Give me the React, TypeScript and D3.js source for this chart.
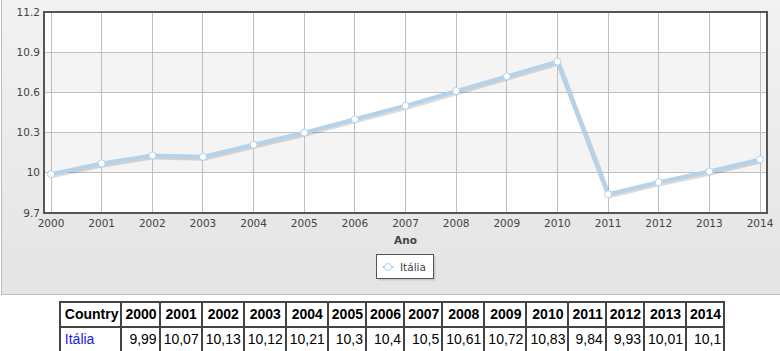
import React from "react";
import * as d3 from "d3";

const years = [2000, 2001, 2002, 2003, 2004, 2005, 2006, 2007, 2008, 2009, 2010, 2011, 2012, 2013, 2014];
const values = [9.99, 10.07, 10.13, 10.12, 10.21, 10.3, 10.4, 10.5, 10.61, 10.72, 10.83, 9.84, 9.93, 10.01, 10.1];
const yTicks = [9.7, 10, 10.3, 10.6, 10.9, 11.2];
const seriesName = "Itália";
const xTitle = "Ano";
const firstColumn = "Country";

const W = 780;
const H = 296;
const plot = { left: 44, right: 767, top: 12, bottom: 213 };
const pad = 7; // inner padding of the x axis

const font = "'DejaVu Sans', Verdana, sans-serif";

const App: React.FC = () => {
  const x = d3
    .scaleLinear()
    .domain([years[0], years[years.length - 1]])
    .range([plot.left + pad, plot.right - pad]);
  const y = d3
    .scaleLinear()
    .domain([yTicks[0], yTicks[yTicks.length - 1]])
    .range([plot.bottom, plot.top]);

  const pts = years.map((yr, i) => ({ yr, v: values[i] }));
  const line = d3
    .line<{ yr: number; v: number }>()
    .x((d) => x(d.yr))
    .y((d) => y(d.v));

  const fmt = (v: number) => String(Math.round(v * 10) / 10);
  const legendX = 376.5;
  const legendY = 254.5;

  const cell: React.CSSProperties = {
    border: "1px solid #444",
    padding: "3px 2px 3px 3px",
    lineHeight: "17px",
  };

  return (
    <div style={{ position: "absolute", left: 0, top: 0, width: 780, height: 351, overflow: "hidden" }}>
      <svg width={W} height={H} style={{ display: "block" }}>
        <defs>
          <linearGradient id="panel-bg" x1="0" y1="0" x2="0" y2="1">
            <stop offset="0%" stopColor="#f2f2f2" />
            <stop offset="100%" stopColor="#e4e4e4" />
          </linearGradient>
        </defs>
        <rect x={1.5} y={-2} width={800} height={296.5} fill="url(#panel-bg)" stroke="#bdbdbd" />

        {/* plot background bands */}
        {yTicks.slice(0, -1).map((t, i) => (
          <rect
            key={`band-${t}`}
            x={plot.left}
            y={y(yTicks[i + 1])}
            width={plot.right - plot.left}
            height={y(t) - y(yTicks[i + 1])}
            fill={i % 2 === 1 ? "#f4f4f4" : "#ffffff"}
          />
        ))}

        {/* grid */}
        {years.map((yr) => (
          <line
            key={`vg-${yr}`}
            x1={x(yr)}
            x2={x(yr)}
            y1={plot.top}
            y2={plot.bottom}
            stroke="#bfbfbf"
            strokeWidth={1}
            shapeRendering="crispEdges"
          />
        ))}
        {yTicks.map((t) => (
          <line
            key={`hg-${t}`}
            x1={plot.left}
            x2={plot.right}
            y1={y(t)}
            y2={y(t)}
            stroke="#bfbfbf"
            strokeWidth={1}
            shapeRendering="crispEdges"
          />
        ))}

        {/* series */}
        <path
          d={line(pts) || ""}
          transform="translate(1,1.5)"
          fill="none"
          stroke="rgba(0,0,0,0.14)"
          strokeWidth={5}
          strokeLinejoin="round"
        />
        <path d={line(pts) || ""} fill="none" stroke="#b3d3ec" strokeWidth={4} strokeLinejoin="round" />
        {pts.map((d) => (
          <circle key={`pt-${d.yr}`} cx={x(d.yr)} cy={y(d.v)} r={3.5} fill="#ffffff" stroke="#b3d3ec" strokeWidth={1} />
        ))}

        {/* plot border */}
        <rect
          x={plot.left}
          y={plot.top}
          width={plot.right - plot.left}
          height={plot.bottom - plot.top}
          fill="none"
          stroke="#555"
          strokeWidth={2}
        />

        {/* y axis labels */}
        {yTicks.map((t) => (
          <text
            key={`yl-${t}`}
            x={plot.left - 4}
            y={y(t)}
            dy="0.35em"
            textAnchor="end"
            fontFamily={font}
            fontSize={10.5}
            fill="#444"
          >
            {fmt(t)}
          </text>
        ))}

        {/* x axis labels */}
        {years.map((yr) => (
          <text
            key={`xl-${yr}`}
            x={x(yr)}
            y={226.5}
            textAnchor="middle"
            fontFamily={font}
            fontSize={10.5}
            fill="#444"
          >
            {yr}
          </text>
        ))}
        <text
          x={(plot.left + plot.right) / 2}
          y={244}
          textAnchor="middle"
          fontFamily={font}
          fontSize={10.5}
          fontWeight="bold"
          fill="#444"
        >
          {xTitle}
        </text>

        {/* legend */}
        <rect x={legendX + 2} y={legendY + 2} width={57} height={24} fill="rgba(0,0,0,0.12)" />
        <rect x={legendX} y={legendY} width={57} height={24} fill="#fff" stroke="#555" strokeWidth={1} />
        <line x1={legendX + 6} x2={legendX + 17} y1={legendY + 12.5} y2={legendY + 12.5} stroke="#b3d3ec" strokeWidth={2} />
        <circle cx={legendX + 11.5} cy={legendY + 12.5} r={3.5} fill="#fff" stroke="#b3d3ec" />
        <text x={legendX + 23.5} y={legendY + 12.5} dy="0.35em" fontFamily={font} fontSize={10.5} fill="#444">
          {seriesName}
        </text>
      </svg>

      <div style={{ position: "absolute", top: 301, left: 0, width: 784 }}>
        <table
          style={{
            margin: "0 auto",
            borderCollapse: "separate",
            borderSpacing: 0,
            border: "1px solid #444",
            fontFamily: "'Liberation Sans', Arial, sans-serif",
            fontSize: 14,
            color: "#000",
          }}
        >
          <tbody>
            <tr>
              <th style={{ ...cell, textAlign: "left", paddingLeft: 4 }}>{firstColumn}</th>
              {years.map((yr) => (
                <th key={`th-${yr}`} style={cell}>
                  {yr}
                </th>
              ))}
            </tr>
            <tr>
              <td style={{ ...cell, textAlign: "left", paddingLeft: 4, color: "#1a1ae6" }}>{seriesName}</td>
              {values.map((v, i) => (
                <td key={`td-${i}`} style={{ ...cell, textAlign: "right" }}>
                  {String(v).replace(".", ",")}
                </td>
              ))}
            </tr>
          </tbody>
        </table>
      </div>
    </div>
  );
};

export default App;
